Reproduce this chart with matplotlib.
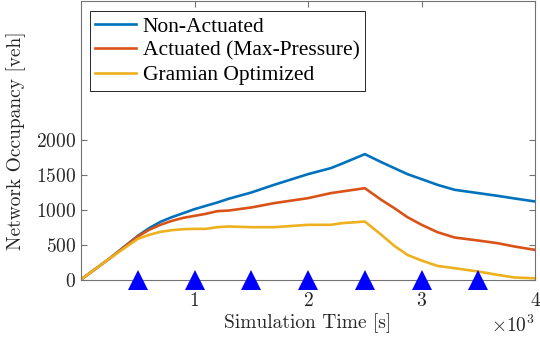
import numpy as np
import matplotlib
matplotlib.use("Agg")
import matplotlib.pyplot as plt

plt.rcParams["mathtext.fontset"] = "cm"
plt.rcParams["font.family"] = "cmr10"
plt.rcParams["axes.formatter.use_mathtext"] = True

# simulation time [s]
t = [0, 250, 500, 600, 700, 800, 900, 1000, 1100, 1200, 1300, 1500, 1700, 2000,
     2200, 2300, 2500, 2640, 2760, 2875, 3000, 3140, 3290, 3500, 3670, 3820, 4000]
non_actuated = [0, 300, 627, 738, 829, 896, 953, 1011, 1059, 1106, 1160, 1250, 1360, 1514,
                1600, 1665, 1801, 1690, 1600, 1514, 1442, 1360, 1289, 1241, 1202, 1164, 1121]
max_pressure = [0, 300, 618, 714, 786, 843, 886, 915, 944, 982, 991, 1035, 1097, 1169,
                1241, 1265, 1312, 1150, 1025, 896, 786, 680, 604, 560, 522, 474, 426]
gramian = [0, 300, 584, 642, 685, 709, 723, 728, 728, 752, 762, 752, 752, 786,
           786, 810, 833, 650, 484, 354, 273, 196, 163, 115, 67, 29, 18]

# actuation instants
act_t = [500, 1000, 1500, 2000, 2500, 3000, 3500]
act_y = [0, 0, 0, 0, 0, 0, 0]

fig = plt.figure(figsize=(5.4, 3.43), dpi=100)
ax = fig.add_axes([0.15, 0.185, 0.841, 0.812])

ax.plot(t, non_actuated, color=(0, 0.447, 0.741), lw=1.9, label="Non-Actuated")
ax.plot(t, max_pressure, color=(0.85, 0.325, 0.098), lw=1.9, label="Actuated (Max-Pressure)")
ax.plot(t, gramian, color=(0.929, 0.694, 0.125), lw=1.9, label="Gramian Optimized")
ax.plot(act_t, act_y, "^", color="#0000FF", ms=14, mew=0, clip_on=False, zorder=5)

ax.set_xlim(0, 4000)
ax.set_ylim(0, 4000)
ax.set_xticks([1000, 2000, 3000, 4000])
ax.set_yticks([0, 500, 1000, 1500, 2000])
ax.ticklabel_format(axis="x", style="sci", scilimits=(0, 0), useMathText=True)

for s in ax.spines.values():
    s.set_color("0.45")
    s.set_linewidth(0.8)
ax.tick_params(direction="in", top=True, right=True, length=4, width=0.8,
               color="0.45", labelsize=14, labelcolor="0.15")
ax.tick_params(axis="x", pad=9)
ax.xaxis.get_offset_text().set_fontsize(14)
ax.xaxis.get_offset_text().set_color("0.15")

ax.set_xlabel("Simulation Time [s]", fontsize=14, color="0.15", labelpad=2)
ax.set_ylabel("Network Occupancy [veh]", fontsize=14, color="0.15", labelpad=7)

leg = ax.legend(loc="upper left", bbox_to_anchor=(0.02, 0.964), fancybox=False,
                framealpha=1, edgecolor="0.15", handlelength=1.9, borderpad=0.25,
                labelspacing=0.2, handletextpad=0.3, borderaxespad=0,
                prop={"family": "Liberation Serif", "size": 15.5})
leg.get_frame().set_linewidth(0.7)

fig.savefig("out.png", dpi=100)
